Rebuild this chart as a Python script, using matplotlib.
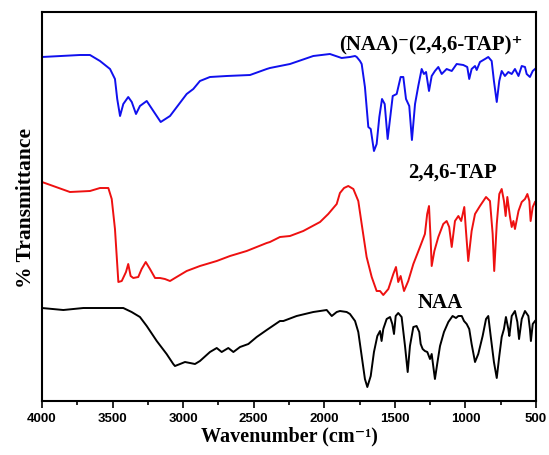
import matplotlib
matplotlib.use("Agg")
import matplotlib.pyplot as plt
from matplotlib.ticker import MultipleLocator

# FTIR spectra, transmittance in arbitrary (offset) units
salt_wn = [4000, 3731, 3660, 3589, 3518, 3483, 3467, 3447, 3424, 3389, 3364, 3334, 3306,
           3258, 3211, 3159, 3093, 2975, 2928, 2881, 2810, 2691, 2526, 2408, 2385, 2314,
           2243, 2078, 1960, 1877, 1818, 1782, 1770, 1747, 1735, 1712, 1688, 1671, 1648,
           1629, 1610, 1591, 1572, 1551, 1530, 1515, 1487, 1459, 1440, 1421, 1398, 1379,
           1357, 1334, 1310, 1294, 1279, 1258, 1239, 1216, 1192, 1168, 1133, 1097, 1062,
           1015, 987, 973, 956, 932, 920, 897, 861, 838, 814, 798, 778, 760, 743, 720,
           696, 672, 649, 624, 601, 578, 566, 543, 523, 507]
salt_t = [344, 346, 346, 340, 332, 322, 302, 285, 297, 304, 299, 287, 295,
          300, 290, 279, 285, 307, 312, 320, 324, 325, 326, 332, 333, 335,
          337, 345, 347, 343, 344, 345, 344, 340, 337, 314, 274, 272, 250,
          257, 284, 302, 297, 262, 287, 305, 307, 324, 324, 302, 295, 261,
          297, 315, 332, 327, 329, 310, 325, 330, 334, 327, 332, 330, 337,
          336, 334, 322, 332, 335, 331, 339, 342, 344, 340, 320, 299, 320, 330, 325,
          329, 327, 332, 325, 335, 334, 327, 324, 330, 332]

tap_wn = [4000, 3802, 3660, 3589, 3530, 3506, 3483, 3459, 3435, 3405, 3389, 3372, 3353,
          3318, 3294, 3265, 3235, 3199, 3164, 3129, 3093, 3058, 2975, 2881, 2762, 2668,
          2550, 2408, 2385, 2314, 2243, 2149, 2030, 1972, 1912, 1889, 1860, 1830, 1794,
          1759, 1735, 1700, 1664, 1629, 1605, 1582, 1546, 1511, 1492, 1476, 1459, 1435,
          1405, 1369, 1322, 1287, 1271, 1258, 1246, 1239, 1220, 1192, 1157, 1133, 1115,
          1097, 1074, 1050, 1030, 1008, 996, 980, 956, 932, 897, 854, 826, 807, 796,
          778, 760, 743, 727, 715, 703, 684, 672, 660, 649, 624, 601, 578, 561, 547,
          538, 523, 507]
tap_t = [219, 209, 210, 213, 213, 202, 172, 119, 120, 129, 137, 125, 123,
         124, 132, 139, 132, 123, 123, 122, 120, 123, 130, 135, 140, 145,
         150, 158, 159, 164, 165, 170, 179, 187, 197, 208, 213, 215, 212,
         200, 177, 144, 124, 110, 110, 106, 112, 127, 134, 119, 125, 110,
         120, 137, 154, 167, 187, 195, 160, 135, 150, 164, 177, 180, 174,
         154, 180, 185, 180, 194, 170, 140, 170, 187, 195, 204, 200, 167, 130,
         177, 207, 212, 200, 185, 204, 184, 174, 180, 172, 190, 199, 202, 207, 200,
         180, 194, 199]

naa_wn = [4000, 3849, 3707, 3424, 3365, 3306, 3258, 3187, 3117, 3070, 3058, 3022, 2987,
          2951, 2916, 2881, 2810, 2762, 2727, 2680, 2644, 2597, 2538, 2479, 2408, 2314,
          2290, 2196, 2078, 1983, 1947, 1912, 1889, 1841, 1818, 1782, 1759, 1735, 1712,
          1695, 1671, 1648, 1624, 1605, 1594, 1582, 1558, 1534, 1518, 1506, 1494, 1476,
          1452, 1428, 1409, 1393, 1369, 1346, 1327, 1317, 1303, 1287, 1270, 1251, 1239,
          1228, 1216, 1200, 1180, 1152, 1121, 1091, 1067, 1050, 1026, 1010, 991, 973,
          956, 932, 909, 878, 854, 838, 821, 798, 778, 760, 743, 727, 713, 696, 689,
          672, 649, 632, 620, 601, 578, 554, 543, 536, 523, 507]
naa_t = [93, 91, 93, 93, 89, 84, 75, 60, 47, 37, 35, 37, 39,
         38, 37, 40, 49, 53, 49, 53, 49, 54, 57, 64, 71, 80,
         80, 85, 89, 91, 85, 89, 90, 89, 87, 80, 69, 45, 22,
         14, 25, 49, 65, 70, 60, 72, 82, 84, 77, 67, 85, 88,
         84, 55, 29, 55, 74, 75, 69, 57, 52, 50, 49, 42, 47,
         35, 22, 37, 55, 69, 79, 85, 83, 85, 85, 80, 77, 72,
         57, 39, 47, 65, 82, 85, 65, 39, 23, 45, 64, 72, 84, 72, 65,
         85, 90, 79, 62, 82, 90, 85, 72, 60, 77, 80]

serif = ["Liberation Serif", "DejaVu Serif"]

fig = plt.figure(figsize=(5.49, 4.56), dpi=100)
ax = fig.add_axes([0.0765, 0.1184, 0.8998, 0.8531])

ax.plot(salt_wn, salt_t, color="#1010ee", lw=1.4)
ax.plot(tap_wn, tap_t, color="#ee1010", lw=1.4)
ax.plot(naa_wn, naa_t, color="black", lw=1.4)

ax.set_xlim(4000, 500)
ax.set_ylim(0, 389)
ax.set_yticks([])
ax.xaxis.set_major_locator(MultipleLocator(500))
ax.xaxis.set_minor_locator(MultipleLocator(250))
ax.tick_params(axis="x", which="major", direction="out", length=5, width=1.2, pad=3)
ax.tick_params(axis="x", which="minor", direction="out", length=3, width=1.2)
for lbl in ax.get_xticklabels():
    lbl.set_fontfamily("Liberation Sans")
    lbl.set_fontweight("bold")
    lbl.set_fontsize(9.5)
for sp in ax.spines.values():
    sp.set_linewidth(1.5)

ax.text(592, 357, "(NAA)\u207b(2,4,6-TAP)\u207a", family=serif,
        fontweight="bold", fontsize=15, ha="right", va="center")
ax.text(1095, 229, "2,4,6-TAP", family=serif, fontweight="bold", fontsize=15,
        ha="center", va="center")
ax.text(1180, 99, "NAA", family=serif, fontweight="bold", fontsize=15,
        ha="center", va="center")

ax.set_xlabel("Wavenumber (cm\u207b\u00b9)", family=serif, fontweight="bold",
              fontsize=14.5, labelpad=1)
ax.set_ylabel("% Transmittance", family=serif, fontweight="bold", fontsize=15.5,
              labelpad=4)

fig.savefig("out.png", dpi=100)
